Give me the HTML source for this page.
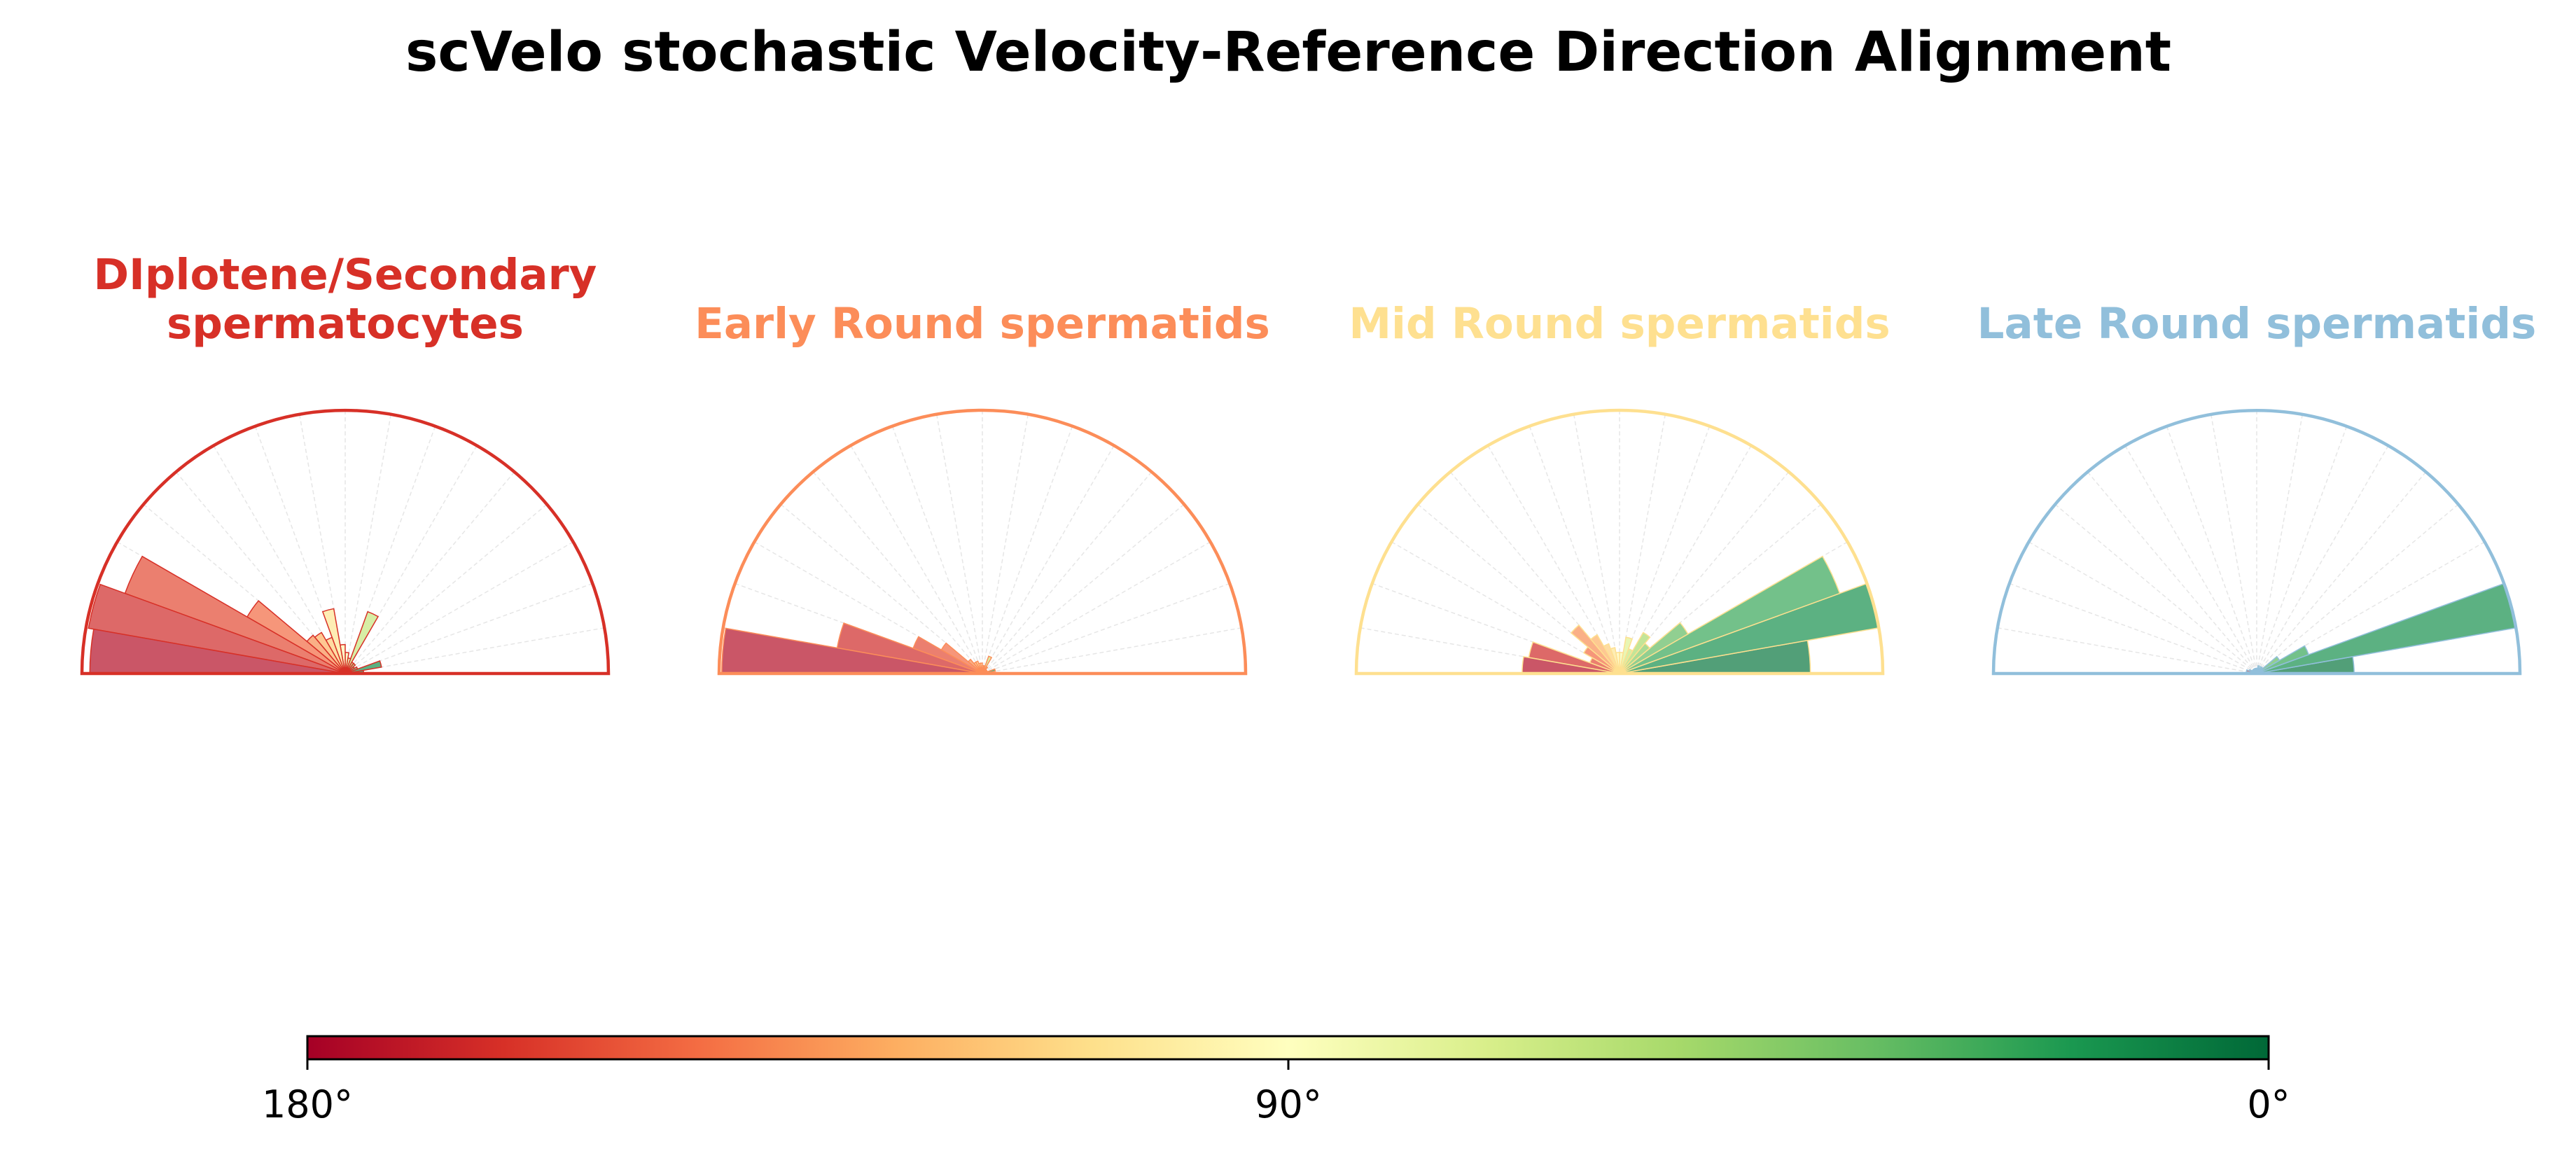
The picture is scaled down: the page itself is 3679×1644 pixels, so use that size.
<!DOCTYPE html>
<html><head><meta charset="utf-8">
<style>
html,body{margin:0;padding:0;background:#fff;}
svg{display:block;font-family:"DejaVu Sans","Liberation Sans",sans-serif;}
</style></head>
<body>
<svg id="chart" width="3679" height="1644" viewBox="0 0 3679 1644" xmlns="http://www.w3.org/2000/svg">
<defs>
<linearGradient id="cbgrad" x1="0" x2="1" y1="0" y2="0">
<stop offset="0" stop-color="#a50026"/><stop offset="0.1" stop-color="#d73027"/><stop offset="0.2" stop-color="#f46d43"/><stop offset="0.3" stop-color="#fdae61"/><stop offset="0.4" stop-color="#fee08b"/><stop offset="0.5" stop-color="#ffffbf"/><stop offset="0.6" stop-color="#d9ef8b"/><stop offset="0.7" stop-color="#a6d96a"/><stop offset="0.8" stop-color="#66bd63"/><stop offset="0.9" stop-color="#1a9850"/><stop offset="1" stop-color="#006837"/>
</linearGradient>
</defs>
<text x="1840" y="101" text-anchor="middle" font-size="78" font-weight="bold" fill="#000">scVelo stochastic Velocity-Reference Direction Alignment</text>
<g id="panels"></g>
<g>
<rect x="439" y="1480" width="2801" height="33" fill="url(#cbgrad)" stroke="#000" stroke-width="3"/>
<line x1="439" y1="1513" x2="439" y2="1528" stroke="#000" stroke-width="3"/>
<line x1="1840" y1="1513" x2="1840" y2="1528" stroke="#000" stroke-width="3"/>
<line x1="3240" y1="1513" x2="3240" y2="1528" stroke="#000" stroke-width="3"/>
<text x="439" y="1596" text-anchor="middle" font-size="54">180°</text>
<text x="1840" y="1596" text-anchor="middle" font-size="54">90°</text>
<text x="3240" y="1596" text-anchor="middle" font-size="54">0°</text>
</g>
</svg>
<script>
// bins: 0-10°, 10-20°, ... 170-180° (angle measured from right)
const binStarts = [0,10,20,30,40,50,60,70,80,90,100,110,120,130,140,150,160,170];
const panelTitles = [["DIplotene/Secondary","spermatocytes"],["Early Round spermatids"],["Mid Round spermatids"],["Late Round spermatids"]];
const panelColors = ["#d73027","#fc8d59","#fee090","#91bfdb"];
// relative frequency (fraction of max radius) per bin
const diploteneValues = [0.07,0.14,0.05,0.04,0.05,0.05,0.25,0.06,0.08,0.11,0.25,0.146,0.18,0.19,0.43,0.89,0.99,0.97];
const earlyValues = [0.02,0.05,0.02,0.02,0.02,0.03,0.07,0.03,0.03,0.04,0.04,0.05,0.05,0.07,0.18,0.28,0.56,0.99];
const midValues = [0.725,1.0,0.89,0.30,0.15,0.18,0.10,0.14,0.08,0.08,0.10,0.12,0.17,0.24,0.157,0.12,0.35,0.37];
const lateValues = [0.37,1.0,0.21,0.10,0.03,0.03,0.02,0.03,0.02,0.02,0.02,0.02,0.02,0.02,0.02,0.03,0.04,0.02];
const allValues = [diploteneValues, earlyValues, midValues, lateValues];

const centersX = [493,1403,2313,3223];
const CY = 962, R = 376, BIN = 10;
const stops = ["#a50026","#d73027","#f46d43","#fdae61","#fee08b","#ffffbf","#d9ef8b","#a6d96a","#66bd63","#1a9850","#006837"];
function hex(c){return [parseInt(c.slice(1,3),16),parseInt(c.slice(3,5),16),parseInt(c.slice(5,7),16)];}
function cmap(t){t=Math.max(0,Math.min(1,t));const p=t*10,i=Math.min(9,Math.floor(p)),f=p-i;const a=hex(stops[i]),b=hex(stops[i+1]);
 return a.map((v,k)=>Math.round((v+(b[k]-v)*f)*0.7+255*0.3));}
function rScale(v){return v*R;}
function pt(cx,deg,r){const a=deg*Math.PI/180;return [cx+r*Math.cos(a),CY-r*Math.sin(a)];}
const NS="http://www.w3.org/2000/svg";
const g=document.getElementById('panels');
function mk(tag,attrs,parent){const e=document.createElementNS(NS,tag);for(const k in attrs)e.setAttribute(k,attrs[k]);parent.appendChild(e);return e;}
allValues.forEach((vals,p)=>{
 const cx=centersX[p], col=panelColors[p];
 const pg=mk('g',{},g);
 
 
 for(let a=10;a<180;a+=10){const e=pt(cx,a,R);const l=mk('line',{x1:cx,y1:CY,x2:e[0],y2:e[1],stroke:'#e6e6e6','stroke-width':1.5,'stroke-dasharray':'6,4'},pg);
  
  }
 vals.forEach((v,i)=>{const a0=binStarts[i],a1=a0+BIN,r=rScale(v);const p0=pt(cx,a0,r),p1=pt(cx,a1,r);
  const c=cmap(1-(a0+BIN/2)/180);
  const path=mk('path',{d:`M${cx},${CY} L${p0[0]},${p0[1]} A${r},${r} 0 0 0 ${p1[0]},${p1[1]} Z`,fill:`rgb(${c[0]},${c[1]},${c[2]})`,stroke:col,'stroke-width':1.5,'stroke-linejoin':'miter'},pg);
  
  });
 const fr=mk('path',{d:`M${cx-R},${CY} A${R},${R} 0 0 1 ${cx+R},${CY} Z`,fill:'none',stroke:col,'stroke-width':4.5},pg);
 
 
 const lines=panelTitles[p];
 lines.forEach((t,k)=>{const y=462+21-(lines.length-1-k)*70;
  const tx=mk('text',{x:cx,y:y,'text-anchor':'middle','font-size':61,'font-weight':'bold',fill:col},pg);
  tx.textContent=t;
  
  });
});
</script>
</body></html>
